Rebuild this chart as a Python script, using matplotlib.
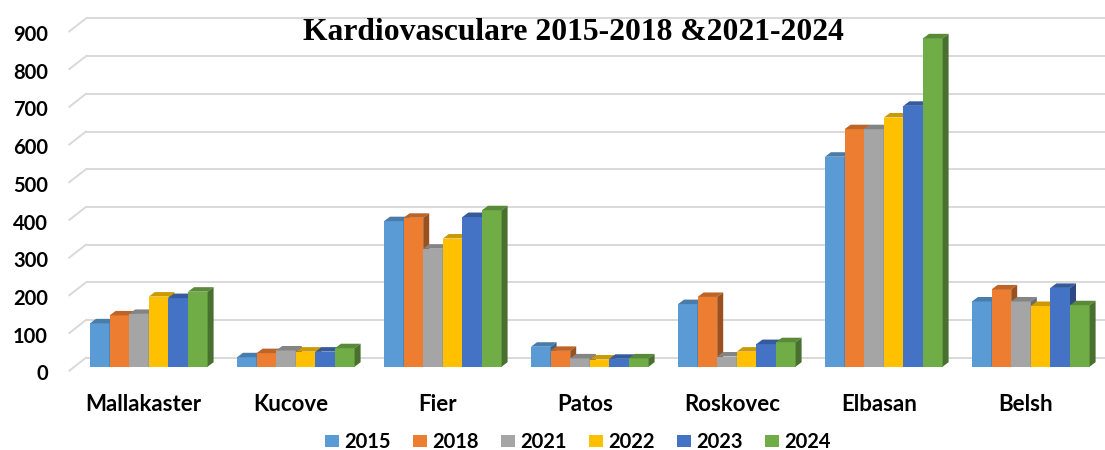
import matplotlib
matplotlib.use('Agg')
import matplotlib.pyplot as plt
import numpy as np
from matplotlib.patches import Polygon, Patch
from matplotlib import colors as mcolors

# data
cities = ['Mallakaster', 'Kucove', 'Fier', 'Patos', 'Roskovec', 'Elbasan', 'Belsh']
years = ['2015', '2018', '2021', '2022', '2023', '2024']
v2015 = [115, 25, 386, 53, 166, 557, 173]
v2018 = [136, 36, 395, 42, 185, 630, 205]
v2021 = [140, 43, 313, 22, 27, 630, 173]
v2022 = [186, 40, 340, 19, 40, 661, 161]
v2023 = [182, 40, 397, 21, 60, 692, 209]
v2024 = [199, 49, 415, 22, 65, 871, 163]
yticks = [0, 100, 200, 300, 400, 500, 600, 700, 800, 900]

series = [v2015, v2018, v2021, v2022, v2023, v2024]
bar_colors = ['#5B9BD5', '#ED7D31', '#A5A5A5', '#FFC000', '#4472C4', '#70AD47']
title = 'Kardiovasculare 2015-2018 &2021-2024'

fonts = ['Lato', 'DejaVu Sans']
grid_c = '#D9D9D9'


def shade(c, f):
    r, g, b = mcolors.to_rgb(c)
    return (r * f, g * f, b * f)


fig = plt.figure(figsize=(11.05, 4.5), dpi=100)
# axes placed in pixel terms: left 68, right 1105, top 5, bottom 378
W, H = 1105.0, 450.0
ax = fig.add_axes([68 / W, (H - 378) / H, (1105 - 68) / W, (378 - 5) / H])
px_per_cat = 147.0
px_per_val = 0.377
x0_px = 148.8
base_px = 366.7
ax.set_xlim((68 - x0_px) / px_per_cat, (1105 - x0_px) / px_per_cat)
ax.set_ylim((base_px - 378) / px_per_val, (base_px - 5) / px_per_val)
for s in ax.spines.values():
    s.set_visible(False)

# 3d look: depth offset
dx = 6.0 / px_per_cat
dy = 4.5 / px_per_val
back_off = (base_px - 357.7) / px_per_val
front_off = (base_px - 370.7) / px_per_val
wall_x_back = (86 - x0_px) / px_per_cat
wall_x_front = (69.3 - x0_px) / px_per_cat

# back wall gridlines and side wall lines
for v in yticks:
    ax.plot([wall_x_back, ax.get_xlim()[1]], [v + back_off, v + back_off],
            color=grid_c, lw=1.4, zorder=1, solid_capstyle='butt')
    ax.plot([wall_x_front, wall_x_back], [v + front_off, v + back_off],
            color=grid_c, lw=1.4, zorder=1)

ind = np.arange(len(cities))
width = 0.8 / len(years)
for j, vals in enumerate(series):
    xs = ind - 0.4 + j * width
    z = 3 + j
    ax.bar(xs, vals, width=width, align='edge', color=bar_colors[j], zorder=z, linewidth=0)
    for x, h in zip(xs, vals):
        top = Polygon([(x, h), (x + dx, h + dy), (x + width + dx, h + dy), (x + width, h)],
                      closed=True, facecolor=shade(bar_colors[j], 0.8), edgecolor='none', zorder=z)
        side = Polygon([(x + width, 0), (x + width + dx, dy), (x + width + dx, h + dy), (x + width, h)],
                       closed=True, facecolor=shade(bar_colors[j], 0.65), edgecolor='none', zorder=z)
        ax.add_patch(top)
        ax.add_patch(side)

# axis labels
ax.set_yticks([v - 15 for v in yticks])
ax.set_yticklabels([str(v) for v in yticks])
ax.set_xticks(ind - 5 / px_per_cat)
ax.set_xticklabels(cities)
ax.tick_params(axis='y', length=0, pad=14.5)
ax.tick_params(axis='x', length=0, pad=11.5)
for lab in ax.get_yticklabels():
    lab.set_fontfamily(fonts)
    lab.set_fontweight('bold')
    lab.set_fontsize(14.5)
for lab in ax.get_xticklabels():
    lab.set_fontfamily(fonts)
    lab.set_fontweight('bold')
    lab.set_fontsize(16)

fig.text(573.9 / W, (H - 40) / H, title, ha='center', va='baseline',
         fontsize=22.8, fontweight='bold', family=['Liberation Serif', 'DejaVu Serif'])

handles = [Patch(facecolor=c, edgecolor='none', label=y) for c, y in zip(bar_colors, years)]
leg = fig.legend(handles=handles, loc='center', bbox_to_anchor=(578 / W, 8 / H), ncol=6,
                 frameon=False, handlelength=0.7, handleheight=0.6, handletextpad=0.26,
                 columnspacing=1.1, borderpad=0, borderaxespad=0,
                 prop={'family': fonts, 'weight': 'bold', 'size': 14.5})

fig.savefig('out.png', dpi=100)
